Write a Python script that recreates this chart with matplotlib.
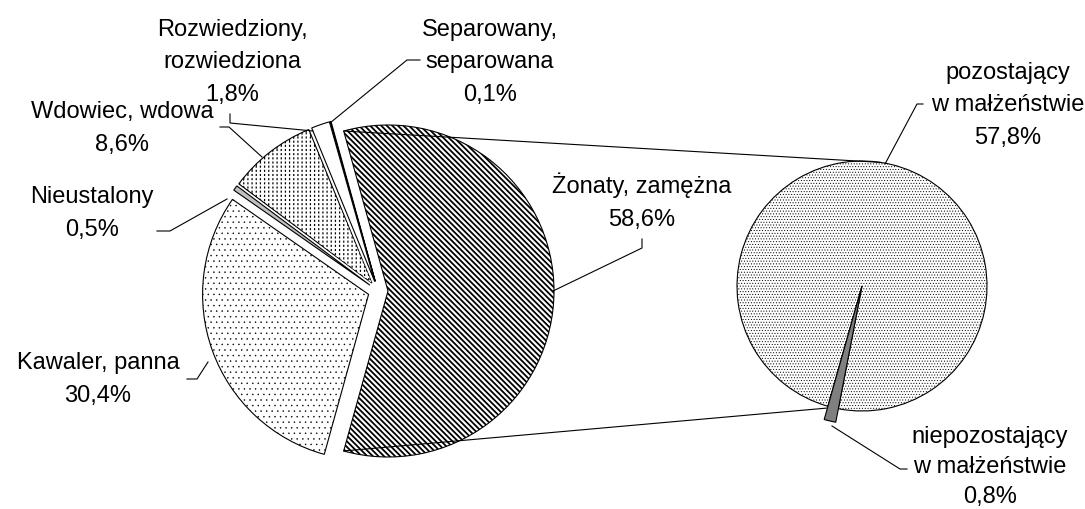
"""
Wykres kołowy typu "koło z kołem": stan cywilny ludności.
"""

import matplotlib
matplotlib.use('Agg')
import matplotlib.pyplot as plt
from matplotlib.patches import Wedge
import numpy as np

# Dane
main_labels = ['Żonaty, zamężna', 'Separowany,\nseparowana', 'Rozwiedziony,\nrozwiedziona',
               'Wdowiec, wdowa', 'Nieustalony', 'Kawaler, panna']
main_values = [58.6, 0.1, 1.8, 8.6, 0.5, 30.4]
main_pct = ['58,6%', '0,1%', '1,8%', '8,6%', '0,5%', '30,4%']
sub_labels = ['pozostający\nw małżeństwie', 'niepozostający\nw małżeństwie']
sub_values = [57.8, 0.8]
sub_pct = ['57,8%', '0,8%']

plt.rcParams['font.family'] = ['Liberation Sans', 'DejaVu Sans']
plt.rcParams['hatch.linewidth'] = 1.0

H = 510
fig = plt.figure(figsize=(10.85, 5.1), dpi=100)
ax = fig.add_axes([0, 0, 1, 1])


def hatch_lw(patch, lw):
    if hasattr(patch, 'set_hatch_linewidth'):
        patch.set_hatch_linewidth(lw)


# Główne koło
main_center = (378, H - 292)
main_r = 166
main_styles = [
    dict(facecolor='white', hatch='\\' * 6, hlw=1.3),    # Żonaty
    dict(facecolor='black', hatch=None, hlw=1.0),        # Separowany
    dict(facecolor='white', hatch=None, hlw=1.0),        # Rozwiedziony
    dict(facecolor='white', hatch='||||', hlw=0.9),      # Wdowiec
    dict(facecolor='#c0c0c0', hatch=None, hlw=1.0),      # Nieustalony
    dict(facecolor='white', hatch='...', hlw=0.3),       # Kawaler
]
wedges, _ = ax.pie(main_values, center=main_center, radius=main_r,
                   startangle=-main_values[0] * 3.6 / 2, counterclock=True,
                   explode=[10] * len(main_values),
                   wedgeprops=dict(edgecolor='black', linewidth=0.8))
for w, st in zip(wedges, main_styles):
    w.set_facecolor(st['facecolor'])
    if st['hatch']:
        w.set_hatch(st['hatch'])
        hatch_lw(w, st['hlw'])

# Przerywane kreski dla wdowców (białe poziome linie na pionowych)
wd = wedges[3]
over = Wedge(wd.center, wd.r * 0.99, wd.theta1 + 0.4, wd.theta2 - 0.4,
             facecolor='none', edgecolor='white', linewidth=0, hatch='----')
hatch_lw(over, 1.5)
ax.add_patch(over)

# Drugie koło
sub_center = (862, H - 287)
sub_r = 125
wedges2, _ = ax.pie(sub_values, center=sub_center, radius=sub_r,
                    startangle=-100.9, counterclock=True,
                    wedgeprops=dict(edgecolor='black', linewidth=0.8))
wedges2[0].set_facecolor('white')
wedges2[0].set_hatch('......')
hatch_lw(wedges2[0], 0.4)
wedges2[1].set_facecolor('#808080')
wedges2[1].set_radius(sub_r * 1.11)
wedges2[1].set_zorder(3)

# Linie łączące
zw = wedges[0]
for ang_main, ang_sub in [(zw.theta2, 81.5), (zw.theta1, 256.5)]:
    x0 = zw.center[0] + zw.r * np.cos(np.radians(ang_main))
    y0 = zw.center[1] + zw.r * np.sin(np.radians(ang_main))
    x1 = sub_center[0] + sub_r * np.cos(np.radians(ang_sub))
    y1 = sub_center[1] + sub_r * np.sin(np.radians(ang_sub))
    ax.plot([x0, x1], [y0, y1], color='black', lw=0.8, zorder=1)

# Etykiety: (x środka, linia bazowa pierwszego wiersza, odstęp wierszy) w pikselach od góry
label_pos = [(642, 193, 33), (490, 35, 33), (232, 35, 33), (122, 118, 33),
             (92, 203, 33), (98, 369, 33)]
sub_label_pos = [(1008, 78, 33), (990, 443, 30)]
leaders = [
    [(642, 240), (642, 249), (553, 292)],
    [(420, 61), (407, 61), (330, 124)],
    [(230, 115), (230, 124), (313, 132)],
    [(220, 128), (229, 128), (262, 158)],
    [(157, 232), (170, 232), (227, 200)],
    [(187, 380), (197, 380), (208, 363)],
]
sub_leaders = [
    [(923, 105), (917, 105), (885, 165)],
    [(907, 470), (900, 470), (832, 427)],
]

for lab, pct, (x, y, step) in zip(main_labels + sub_labels, main_pct + sub_pct,
                                  label_pos + sub_label_pos):
    txt = f'{lab}\n{pct}'
    last_base = y + step * txt.count('\n')
    ax.text(x, H - last_base, txt, ha='center', va='baseline',
            fontsize=17, linespacing=1.63 * step / 33)

for pts in leaders + sub_leaders:
    ax.plot([p[0] for p in pts], [H - p[1] for p in pts],
            color='black', lw=0.8, zorder=4)

ax.set_xlim(0, 1085)
ax.set_ylim(0, H)
ax.set_aspect('equal')
ax.axis('off')

plt.savefig('out.png', dpi=100)
plt.close(fig)
